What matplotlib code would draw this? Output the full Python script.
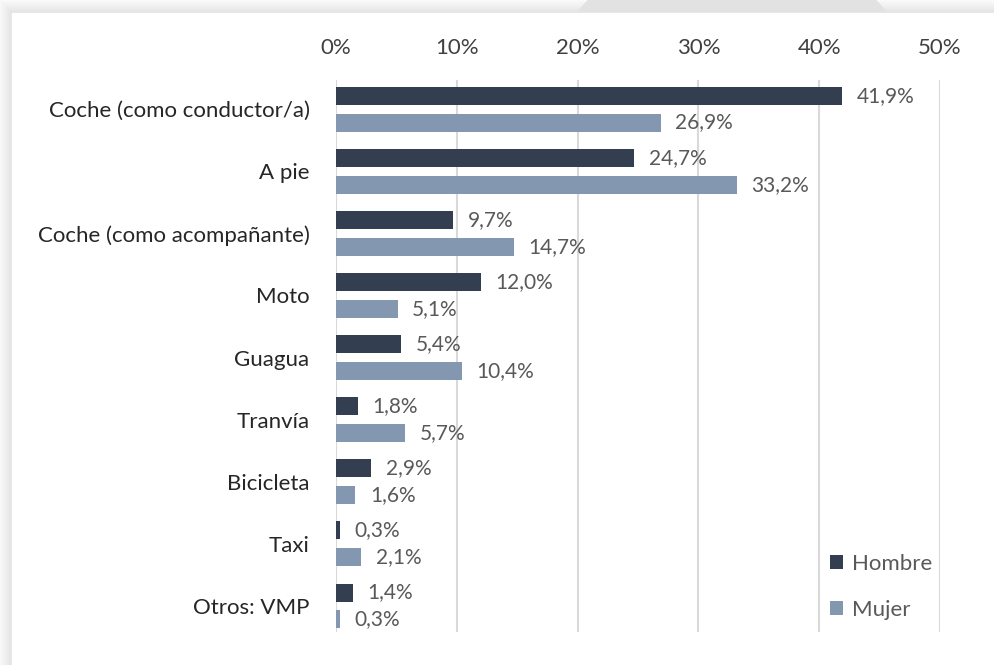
import numpy as np
import matplotlib.pyplot as plt
from matplotlib.patches import Circle

# dados do gráfico (porcentagem por modo de transporte)
categorias = ['Coche (como conductor/a)', 'A pie', 'Coche (como acompañante)',
              'Moto', 'Guagua', 'Tranvía', 'Bicicleta', 'Taxi', 'Otros: VMP']
hombre = [41.9, 24.7, 9.7, 12.0, 5.4, 1.8, 2.9, 0.3, 1.4]
mujer = [26.9, 33.2, 14.7, 5.1, 10.4, 5.7, 1.6, 2.1, 0.3]
ticks = [0, 10, 20, 30, 40, 50]

cor_h = '#333f50'
cor_m = '#8497b0'
plt.rcParams['font.family'] = ['Lato', 'DejaVu Sans']

W, H = 994, 665
fig = plt.figure(figsize=(W / 100, H / 100), dpi=100)

# fundo: sombra suave em volta do cartão branco
bg = fig.add_axes([0, 0, 1, 1])
bg.set_xlim(0, W)
bg.set_ylim(H, 0)
bg.axis('off')
xx, yy = np.meshgrid(np.arange(W), np.arange(H))
dx = np.clip(12 - xx, 0, None)
dy = np.clip(13 - yy, 0, None)
d = np.maximum(dx, dy)
sombra = np.where((xx < 12) | (yy < 13), 0.88 + 0.1 * d / 13, 1.0)
bg.imshow(sombra, cmap='gray', vmin=0, vmax=1, extent=[0, W, H, 0],
          interpolation='bilinear', zorder=0)
bg.add_patch(Circle((732, 138), 199, color='#e2e2e2', zorder=1))
bg.add_patch(plt.Rectangle((12, 13), W, H, color='white', zorder=2))

# eixo principal
ax = fig.add_axes([336 / W, 1 - 632 / H, (940 - 336) / W, (632 - 80) / H])
ax.patch.set_alpha(0)
y = np.arange(len(categorias))
alt = 0.29
off = 0.215

ax.barh(y - off, hombre, height=alt, color=cor_h, label='Hombre', zorder=3)
ax.barh(y + off, mujer, height=alt, color=cor_m, label='Mujer', zorder=3)

for i in range(len(categorias)):
    ax.text(hombre[i] + 1.2, y[i] - off, ('%.1f' % hombre[i]).replace('.', ',') + '%',
            va='center', ha='left', fontsize=15, color='#595959')
    ax.text(mujer[i] + 1.2, y[i] + off, ('%.1f' % mujer[i]).replace('.', ',') + '%',
            va='center', ha='left', fontsize=15, color='#595959')

ax.set_xlim(0, 50)
ax.set_ylim(8.42, -0.47)
ax.set_xticks(ticks)
ax.set_xticklabels([str(t) + '%' for t in ticks])
ax.xaxis.tick_top()
ax.tick_params(axis='x', length=0, pad=16, labelsize=16, labelcolor='#404040')
ax.set_yticks(y)
ax.set_yticklabels(categorias)
ax.tick_params(axis='y', length=0, pad=19, labelsize=16, labelcolor='#262626')
ax.grid(axis='x', color='#d9d9d9', linewidth=1.5, zorder=0)
for s in ax.spines.values():
    s.set_visible(False)

leg = ax.legend(loc='upper left', bbox_to_anchor=(830 / W, 1 - 554 / H),
                bbox_transform=fig.transFigure, frameon=False, fontsize=16,
                handlelength=0.6, handleheight=0.6, handletextpad=0.4,
                labelspacing=1.17, borderpad=0, borderaxespad=0)
for t in leg.get_texts():
    t.set_color('#595959')

fig.savefig('out.png', dpi=100)
